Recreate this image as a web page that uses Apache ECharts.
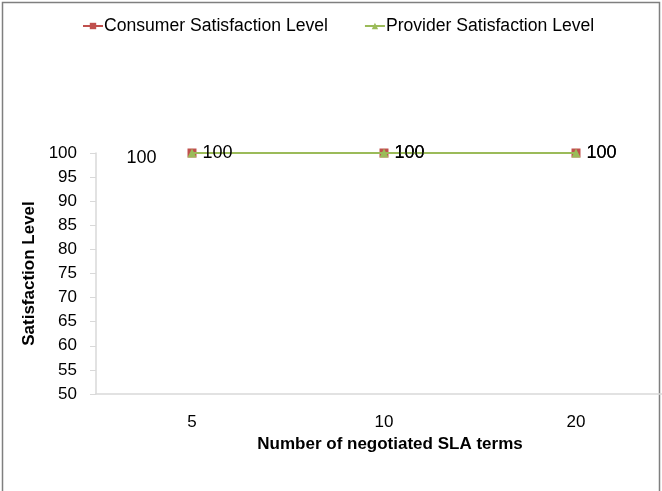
<!DOCTYPE html>
<html>
<head>
<meta charset="utf-8">
<script src="https://cdn.jsdelivr.net/npm/echarts@6/dist/echarts.min.js"></script>
<style>
  html, body { margin: 0; background: #fff; overflow: hidden; }
  #main { width: 672px; height: 491px; }
</style>
</head>
<body>
<div id="main"></div>
<script>
// negotiated SLA terms on x
var categories = ['5', '10', '20'];
var consumerLevel = [100, 100, 100];
var providerLevel = [100, 100, 100];
var yTicks = [50, 55, 60, 65, 70, 75, 80, 85, 90, 95, 100];

var font = 'Liberation Sans';
// the plot runs past the right edge of the 662px window, so the canvas is a bit wider
var myChart = echarts.init(document.getElementById('main'));

var options = {
    animation: false,
    backgroundColor: '#fff',
    textStyle: { fontFamily: font },
    graphic: [{
        type: 'rect',
        shape: { x: 2.5, y: 2.5, width: 657, height: 520 },
        style: { fill: 'none', stroke: '#7f7f7f', lineWidth: 1.5 },
        silent: true
    }],
    legend: {
        top: 12,
        left: 77,
        itemGap: 36,
        itemWidth: 20,
        itemHeight: 8,
        textStyle: { fontSize: 17.6, color: '#000', fontFamily: font, padding: [0, 0, 0, -4] },
        data: ['Consumer Satisfaction Level', 'Provider Satisfaction Level']
    },
    grid: { left: 96, right: 0, top: 153, bottom: 97, containLabel: false },
    xAxis: {
        type: 'category',
        data: categories,
        boundaryGap: true,
        name: 'Number of negotiated SLA terms',
        nameLocation: 'middle',
        nameGap: 42,
        nameTextStyle: { fontSize: 17, fontWeight: 'bold', color: '#000', fontFamily: font, padding: [0, 0, 0, 12] },
        axisLine: { lineStyle: { color: '#d9d9d9', width: 1.5 } },
        axisTick: { alignWithLabel: true, length: 6, lineStyle: { color: '#d9d9d9' } },
        axisLabel: { fontSize: 17, color: '#000', margin: 20 }
    },
    yAxis: {
        type: 'value',
        min: yTicks[0],
        max: yTicks[yTicks.length - 1],
        interval: 5,
        name: 'Satisfaction Level',
        nameLocation: 'middle',
        nameGap: 58,
        nameRotate: 90,
        nameTextStyle: { fontSize: 17, fontWeight: 'bold', color: '#000', fontFamily: font },
        axisLine: { show: true, lineStyle: { color: '#d9d9d9', width: 1.5 } },
        axisTick: { show: true, length: 6, lineStyle: { color: '#d9d9d9' } },
        axisLabel: { fontSize: 17, color: '#000', margin: 19 },
        splitLine: { show: false }
    },
    series: [{
        name: 'Consumer Satisfaction Level',
        type: 'line',
        data: consumerLevel.map(function (v, i) {
            // first label sits off to the left, as in the original
            return i === 0 ? { value: v, label: { position: 'left', offset: [-25, 5] } } : v;
        }),
        symbol: 'rect',
        symbolSize: 9,
        itemStyle: { color: '#c0504d' },
        lineStyle: { color: '#c0504d', width: 2 },
        label: { show: true, position: 'right', fontSize: 18, color: '#000', distance: 6 },
        z: 2
    }, {
        name: 'Provider Satisfaction Level',
        type: 'line',
        data: providerLevel,
        symbol: 'triangle',
        symbolSize: 9,
        itemStyle: { color: '#9bbb59' },
        lineStyle: { color: '#9bbb59', width: 2 },
        label: { show: true, position: 'right', fontSize: 18, color: '#000', distance: 6 },
        z: 3
    }]
};
myChart.setOption(options);
</script>
</body>
</html>
